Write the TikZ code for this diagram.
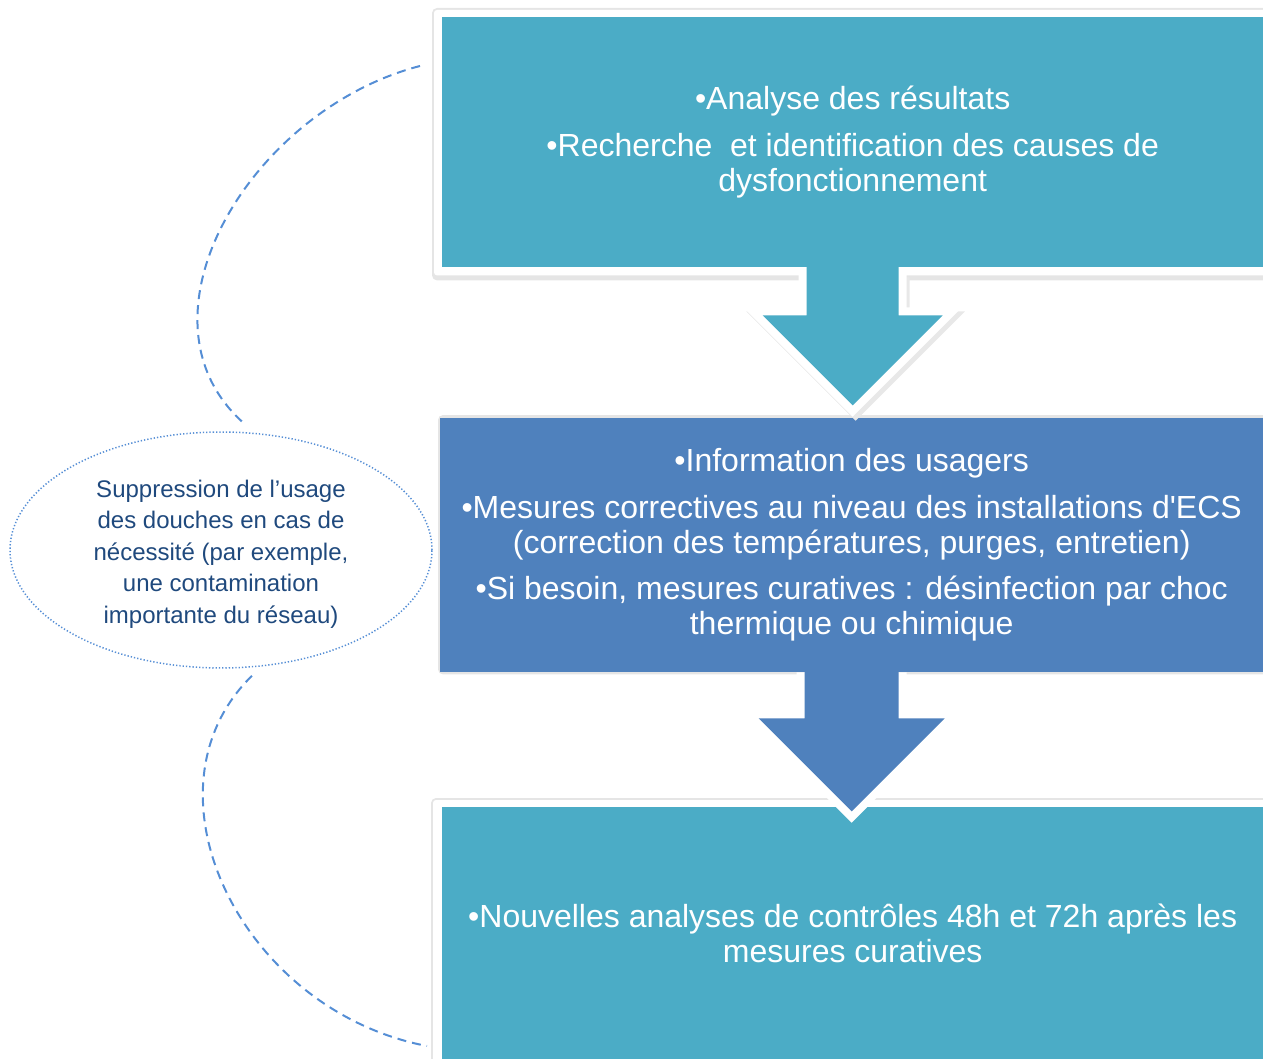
\documentclass[tikz,border=0pt]{standalone}
\usepackage{fontspec}
\newfontfamily\arial{Liberation Sans}
\usetikzlibrary{shapes.geometric,calc}
\definecolor{tealbox}{HTML}{4BACC6}
\definecolor{bluebox}{HTML}{4F81BD}
\definecolor{loopcol}{HTML}{558ED5}
\definecolor{ovaltext}{HTML}{1F497D}
\pgfdeclarelayer{bg}
\pgfdeclarelayer{fg}
\pgfsetlayers{bg,main,fg}
\tikzset{
  stepbox/.style={fill=#1, draw=none, inner sep=0pt, anchor=north west,
    text=white, align=center, font=\arial\fontsize{32}{35}\selectfont},
  framebox/.style={fill=white, rounded corners=3pt},
  boxshadow/.style={fill=black, opacity=0.10, rounded corners=5pt},
  arrowrim/.style={draw=white, line width=16pt, line join=miter},
  loopline/.style={draw=loopcol, line width=2pt, dash pattern=on 9pt off 6pt},
}
\begin{document}
\begin{tikzpicture}[x=1pt,y=-1pt]
  \clip (0,0) rectangle (1263,1059);
  % ------ les trois etapes -----------------
  \node [stepbox=tealbox, minimum width=821pt, minimum height=250pt] (top) at (442,17)
    {\textbullet Analyse des résultats\\[12pt]
     \textbullet Recherche\ \ et identification des causes de\\dysfonctionnement};
  \node [stepbox=bluebox, minimum width=823pt, minimum height=254pt] (mid) at (440,418)
    {\textbullet Information des usagers\\[12pt]
     \textbullet Mesures correctives au niveau des installations d'ECS\\
     (correction des températures, purges, entretien)\\[11pt]
     \textbullet Si besoin, mesures curatives : désinfection par choc\\thermique ou chimique};
  \node [stepbox=tealbox, minimum width=821pt, minimum height=252pt] (bot) at (442,807)
    {\textbullet Nouvelles analyses de contrôles 48h et 72h après les\\mesures curatives};
  % ------ cadres blancs et ombres -----------------
  \begin{pgfonlayer}{bg}
    \fill [boxshadow] ($(top.north west)+(-10,-9)$) rectangle ($(top.south east)+(12,13)$);
    \fill [framebox] ($(top.north west)+(-8,-7)$) rectangle ($(top.south east)+(10,8)$);
    \fill [boxshadow] ($(mid.north west)+(-2,-3)$) rectangle ($(mid.south east)+(4,2)$);
    \fill [boxshadow] ($(bot.north west)+(-11,-9)$) rectangle ($(bot.south east)+(12,13)$);
    \fill [framebox] ($(bot.north west)+(-9,-7)$) rectangle ($(bot.south east)+(10,8)$);
  \end{pgfonlayer}
  % ------ les fleches -----------------
  \begin{pgfonlayer}{fg}
    \draw [arrowrim, draw=black!9] ($(top.south)+(-43,10)$) -- ($(top.south)+(-43,52)$)
      -- ($(top.south)+(-87,52)$) -- ($(top.south)+(3,142)$) -- ($(top.south)+(93,52)$)
      -- ($(top.south)+(49,52)$) -- ($(top.south)+(49,10)$);
    \draw [arrowrim] ($(top.south)+(-46,0)$) -- ($(top.south)+(-46,48)$)
      -- ($(top.south)+(-90,48)$) -- ($(top.south)+(0,138)$) -- ($(top.south)+(90,48)$)
      -- ($(top.south)+(46,48)$) -- ($(top.south)+(46,0)$);
    \fill [tealbox] ($(top.south)+(-46,-1)$) -- ($(top.south)+(-46,48)$)
      -- ($(top.south)+(-90,48)$) -- ($(top.south)+(0,138)$) -- ($(top.south)+(90,48)$)
      -- ($(top.south)+(46,48)$) -- ($(top.south)+(46,-1)$) -- cycle;
    \draw [arrowrim] ($(mid.south)+(-47,0)$) -- ($(mid.south)+(-47,46)$)
      -- ($(mid.south)+(-93,46)$) -- ($(mid.south)+(0,139)$) -- ($(mid.south)+(93,46)$)
      -- ($(mid.south)+(47,46)$) -- ($(mid.south)+(47,0)$);
    \fill [bluebox] ($(mid.south)+(-47,-1)$) -- ($(mid.south)+(-47,46)$)
      -- ($(mid.south)+(-93,46)$) -- ($(mid.south)+(0,139)$) -- ($(mid.south)+(93,46)$)
      -- ($(mid.south)+(47,46)$) -- ($(mid.south)+(47,-1)$) -- cycle;
  \end{pgfonlayer}
  % ------ l'ovale et les liens -----------------
  \node [ellipse, draw=loopcol, line width=1.5pt, dash pattern=on 1.3pt off 2pt,
    minimum width=422pt, minimum height=236pt, inner sep=0pt] (oval) at (221,550) {};
  \node [align=center, text=ovaltext, font=\arial\fontsize{24}{31.5}\selectfont]
    (ovaltxt) at ($(oval.center)+(0,4)$)
    {Suppression de l’usage\\des douches en cas de\\nécessité (par exemple,\\une contamination\\importante du réseau)};
  \coordinate (loopA) at (420,66);
  \coordinate (loopB) at (427,1046);
  \draw [loopline] (loopA) .. controls (250,110) and (125,320) .. ($(oval.north)+(24,-7)$);
  \draw [loopline] ($(oval.south)+(31,7)$) .. controls (135,790) and (240,1010) .. (loopB);
\end{tikzpicture}
\end{document}
